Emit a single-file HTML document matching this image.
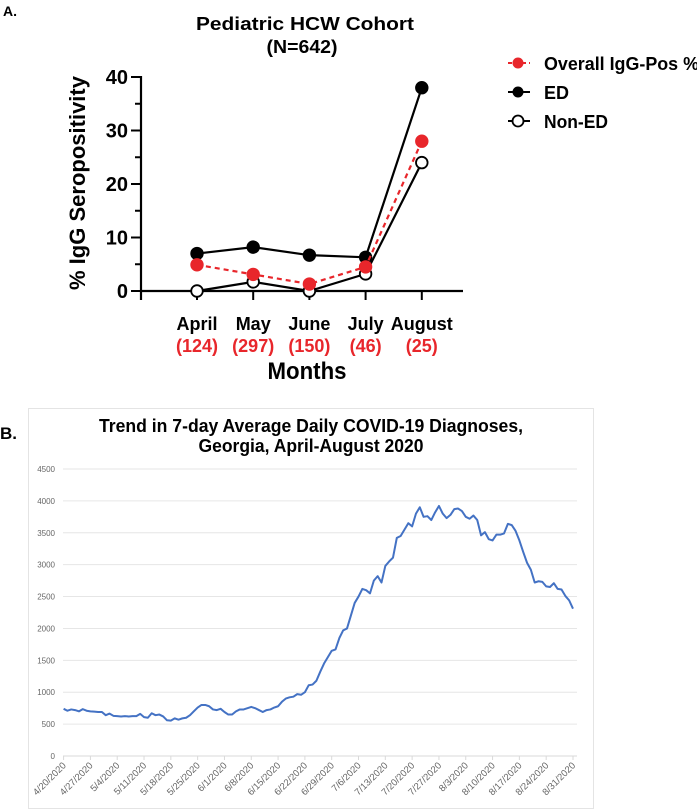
<!DOCTYPE html>
<html><head><meta charset="utf-8"><style>
html,body{margin:0;padding:0;background:#fff;}
svg{display:block;font-family:"Liberation Sans",sans-serif;}
</style></head><body>
<svg id="s" width="697" height="811" viewBox="0 0 697 811">
<text x="3" y="16" font-size="14" font-weight="bold">A.</text>
<text x="305" y="30" font-size="18" font-weight="bold" text-anchor="middle" textLength="218" lengthAdjust="spacingAndGlyphs">Pediatric HCW  Cohort</text>
<text x="302" y="53" font-size="18" font-weight="bold" text-anchor="middle" textLength="71" lengthAdjust="spacingAndGlyphs">(N=642)</text>
<g id="chartA"></g>
<g id="legendA">
 <g>
  <line x1="508" y1="63" x2="530" y2="63" stroke="#e8262b" stroke-width="2" stroke-dasharray="4,3"/>
  <circle cx="518" cy="63" r="5.5" fill="#e8262b"/>
  <text x="544" y="70" font-size="18" font-weight="bold" textLength="155" lengthAdjust="spacingAndGlyphs">Overall IgG-Pos %</text>
 </g>
 <g>
  <line x1="508" y1="92" x2="530" y2="92" stroke="#000" stroke-width="2"/>
  <circle cx="518" cy="92" r="5.5" fill="#000"/>
  <text x="544" y="99" font-size="18" font-weight="bold">ED</text>
 </g>
 <g>
  <line x1="508" y1="121" x2="530" y2="121" stroke="#000" stroke-width="2"/>
  <circle cx="518" cy="121" r="5.5" fill="#fff" stroke="#000" stroke-width="1.8"/>
  <text x="544" y="128" font-size="18" font-weight="bold" textLength="64" lengthAdjust="spacingAndGlyphs">Non-ED</text>
 </g>
</g>
<text x="0" y="439" font-size="17" font-weight="bold">B.</text>
<rect x="28.5" y="408.5" width="565" height="400" fill="none" stroke="#e4e4e4"/>
<text x="311" y="432" font-size="18" font-weight="bold" text-anchor="middle" textLength="424" lengthAdjust="spacingAndGlyphs">Trend in 7-day Average Daily COVID-19 Diagnoses,</text>
<text x="311" y="452" font-size="18" font-weight="bold" text-anchor="middle" textLength="225" lengthAdjust="spacingAndGlyphs">Georgia, April-August 2020</text>
<g id="chartB"></g>
</svg>
<script>
const NS="http://www.w3.org/2000/svg";
function mk(parent,tag,attrs,txt){const e=document.createElementNS(NS,tag);for(const k in attrs)e.setAttribute(k,attrs[k]);if(txt!==undefined)e.textContent=txt;parent.appendChild(e);return e;}

// Chart A data
const months=["April","May","June","July","August"];
const counts=["(124)","(297)","(150)","(46)","(25)"];
const overallPct=[4.9,3.1,1.3,4.5,28];
const edPct=[7.0,8.2,6.7,6.3,38];
const nonEdPct=[0,1.7,0,3.2,24];
const yTicksA=[0,10,20,30,40];

// Chart B data
const dateLabels=["4/20/2020","4/27/2020","5/4/2020","5/11/2020","5/18/2020","5/25/2020","6/1/2020","6/8/2020","6/15/2020","6/22/2020","6/29/2020","7/6/2020","7/13/2020","7/20/2020","7/27/2020","8/3/2020","8/10/2020","8/17/2020","8/24/2020","8/31/2020"];
const yTicksB=[0,500,1000,1500,2000,2500,3000,3500,4000,4500];
const dailyAvg=[740,710,730,720,700,735,710,
700,695,690,690,640,665,630,
625,620,625,620,625,625,660,
610,600,670,640,650,620,560,
555,590,570,590,600,640,700,
760,800,800,780,730,720,740,
690,650,650,700,730,730,750,
770,750,720,690,720,730,760,
780,850,900,920,930,970,960,
1000,1110,1120,1180,1320,1450,1550,
1650,1670,1850,1970,2000,2200,2400,
2500,2620,2600,2550,2750,2820,2720,
2980,3050,3110,3420,3450,3550,3650,
3600,3800,3900,3750,3760,3700,3820,
3920,3800,3730,3780,3870,3880,3840,
3750,3720,3770,3700,3460,3510,3400,
3380,3470,3470,3490,3640,3620,3530,
3380,3200,3030,2920,2720,2740,2730,
2660,2650,2710,2620,2610,2510,2440,2310];

// ---- Chart A ----
(function(){
 const g=document.getElementById('chartA');
 const x=i=>197+i*56.2;
 const y=v=>291-v*5.35;
 mk(g,'line',{x1:141,y1:y(40)-1,x2:141,y2:300,stroke:'#000','stroke-width':2.2});
 mk(g,'line',{x1:141,y1:291,x2:463,y2:291,stroke:'#000','stroke-width':2.2});
 for(let v=0;v<=40;v+=5){mk(g,'line',{x1:v%10===0?131:135,y1:y(v),x2:141,y2:y(v),stroke:'#000','stroke-width':2});}
 yTicksA.forEach(v=>{const t=mk(g,'text',{x:128,y:y(v)+7,'font-size':20,'font-weight':'bold','text-anchor':'end'},String(v));
  
  });
 const yl=mk(g,'text',{x:0,y:0,'font-size':22,'font-weight':'bold','text-anchor':'middle',textLength:214,lengthAdjust:'spacingAndGlyphs',transform:'translate(85,183) rotate(-90)'},'% IgG Seropositivity');
 
 
 months.forEach((m,i)=>{
  mk(g,'line',{x1:x(i),y1:291,x2:x(i),y2:300,stroke:'#000','stroke-width':2});
  const t=mk(g,'text',{x:x(i),y:330,'font-size':18,'font-weight':'bold','text-anchor':'middle'},m);
  
  
  const c=mk(g,'text',{x:x(i),y:352,'font-size':18,'font-weight':'bold','text-anchor':'middle',fill:'#e8262b'},counts[i]);
  
  
 });
 mk(g,'line',{x1:141,y1:291,x2:141,y2:300,stroke:'#000','stroke-width':2});
 const xt=mk(g,'text',{x:307,y:379,'font-size':24,'font-weight':'bold','text-anchor':'middle',textLength:79,lengthAdjust:'spacingAndGlyphs'},'Months');
 
 
 function series(vals,stroke,dash,fill,name){
  const pts=vals.map((v,i)=>x(i)+','+y(v)).join(' ');
  const pl=mk(g,'polyline',{points:pts,fill:'none',stroke:stroke,'stroke-width':2.2,'stroke-dasharray':dash||'none'});
  
  
  vals.forEach((v,i)=>{const c=mk(g,'circle',{cx:x(i),cy:y(v),r:5.8,fill:fill,stroke:fill==='#fff'?'#000':fill,'stroke-width':1.8});
   
   });
 }
 series(edPct,'#000',null,'#000','ed');
 series(nonEdPct,'#000',null,'#fff','non-ed');
 series(overallPct,'#e8262b','5,4','#e8262b','overall');
})();

// ---- Chart B ----
(function(){
 const g=document.getElementById('chartB');
 const x=d=>63.6+d*3.83;
 const y=v=>756-v*0.06378;
 yTicksB.forEach(v=>{
  if(v>0){const l=mk(g,'line',{x1:63,y1:y(v),x2:577,y2:y(v),stroke:'#e6e6e6','stroke-width':1});
   
   }
  const t=mk(g,'text',{x:55,y:y(v)+3,'font-size':8,fill:'#666','text-anchor':'end'},String(v));
  
  
 });
 mk(g,'line',{x1:63,y1:756,x2:577,y2:756,stroke:'#d9d9d9','stroke-width':1});
 dateLabels.forEach((d,i)=>{
  const xx=x(i*7);
  mk(g,'line',{x1:xx,y1:756,x2:xx,y2:760,stroke:'#d9d9d9'});
  const t=mk(g,'text',{x:0,y:0,'font-size':9.5,fill:'#666','text-anchor':'end',transform:`translate(${xx+3},${766}) rotate(-45)`},d);
  
  
 });
 const pts=dailyAvg.map((v,i)=>x(i)+','+y(v)).join(' ');
 const pl=mk(g,'polyline',{points:pts,fill:'none',stroke:'#4472c4','stroke-width':2,'stroke-linejoin':'round'});
 
 
})();
</script>
</body></html>
